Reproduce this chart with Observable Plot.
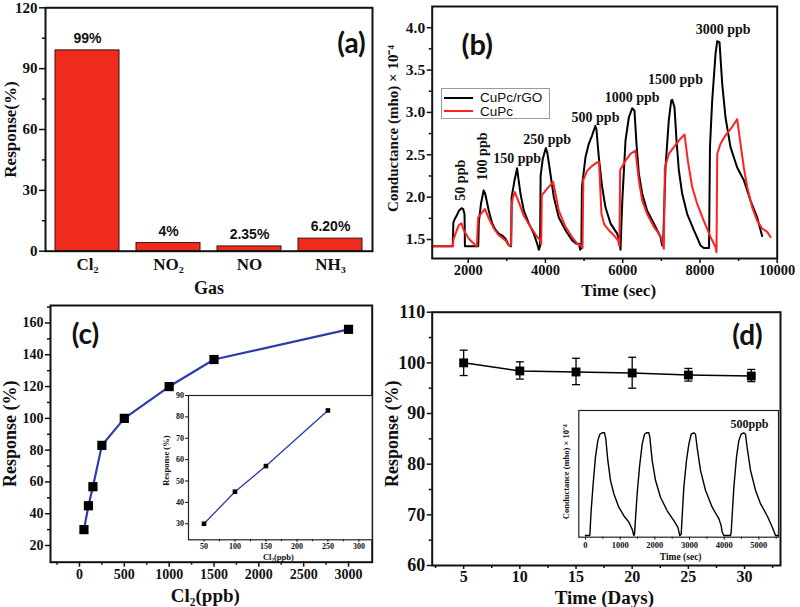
<!DOCTYPE html>
<html><head><meta charset="utf-8">
<script src="https://cdn.jsdelivr.net/npm/d3@7"></script>
<script src="https://cdn.jsdelivr.net/npm/@observablehq/plot@0.6"></script>
<style>
body{margin:0;background:#fff;}
#wrap{position:relative;width:800px;height:607px;overflow:hidden;background:#fff;}
#wrap svg{position:absolute;left:0;top:0;}
.legend{position:absolute;left:441px;top:88px;width:107px;height:29px;border:1px solid #9a9a9a;background:#fff;font:13.5px "Liberation Sans",Arial,sans-serif;color:#111;}
.legend .row{position:absolute;left:2px;height:13px;line-height:13px;}
.legend .sw{position:absolute;left:0;top:5.5px;width:29px;height:0;border-top:2px solid #000;}
.legend .lb{position:absolute;left:36px;top:0;white-space:nowrap;}
</style></head><body><div id="wrap"></div><script>
// ---------- (a) selectivity ----------
const gases = ["Cl₂","NO₂","NO","NH₃"];
const gasResponse = [99, 4, 2.35, 6.2];
const gasLabels = ["99%","4%","2.35%","6.20%"];
const aYTicks = [0,30,60,90,120];
// ---------- (b) transients ----------
const rgoCurve = [[1080,1.42],[1600,1.42],[1615,1.70],[1650,1.74],[1700,1.78],[1760,1.84],[1830,1.87],[1870,1.86],[1905,1.80],[1915,1.42],[2260,1.42],[2275,1.70],[2330,1.92],[2400,2.08],[2440,2.04],[2533,1.84],[2621,1.69],[2700,1.62],[2793,1.57],[2900,1.54],[2966,1.51],[3040,1.44],[3110,1.42],[3125,2.00],[3200,2.20],[3265,2.34],[3300,2.22],[3354,2.04],[3440,1.84],[3569,1.69],[3698,1.57],[3786,1.45],[3830,1.38],[3860,1.42],[3875,2.25],[3930,2.45],[4010,2.58],[4050,2.52],[4105,2.35],[4217,2.00],[4346,1.76],[4519,1.61],[4692,1.49],[4800,1.45],[4870,1.45],[4900,1.38],[4930,1.40],[4945,2.12],[5036,2.47],[5123,2.63],[5209,2.73],[5290,2.84],[5320,2.80],[5382,2.47],[5468,2.12],[5554,1.88],[5684,1.69],[5856,1.57],[5915,1.49],[5943,1.38],[5990,1.96],[6073,2.67],[6159,2.94],[6246,3.05],[6305,3.02],[6357,2.63],[6417,2.28],[6505,2.04],[6634,1.84],[6806,1.69],[6979,1.53],[7022,1.43],[7045,1.43],[7108,2.35],[7194,2.91],[7256,3.14],[7282,3.15],[7341,3.06],[7393,2.67],[7453,2.32],[7540,2.04],[7670,1.80],[7842,1.61],[7950,1.50],[8014,1.43],[8100,1.40],[8235,1.40],[8260,2.60],[8317,3.14],[8403,3.69],[8447,3.84],[8506,3.83],[8576,3.34],[8662,2.94],[8791,2.59],[8964,2.35],[9136,2.20],[9309,1.96],[9482,1.76],[9611,1.54]];
const cupcCurve = [[1080,1.42],[1600,1.42],[1620,1.50],[1671,1.57],[1757,1.67],[1826,1.69],[1886,1.61],[2016,1.51],[2150,1.45],[2225,1.42],[2245,1.65],[2259,1.76],[2362,1.82],[2431,1.86],[2534,1.75],[2664,1.63],[2793,1.55],[2966,1.49],[3052,1.43],[3110,1.43],[3130,1.92],[3160,2.00],[3207,2.06],[3310,1.94],[3440,1.78],[3613,1.65],[3786,1.53],[3872,1.49],[3890,1.44],[3905,2.02],[4045,2.10],[4200,2.18],[4346,1.84],[4519,1.65],[4692,1.53],[4822,1.45],[4908,1.43],[4960,1.40],[4980,2.20],[5079,2.31],[5209,2.37],[5338,2.41],[5382,2.42],[5400,2.30],[5450,1.80],[5520,1.68],[5641,1.61],[5770,1.55],[5880,1.49],[5915,1.42],[5935,2.32],[6073,2.43],[6202,2.51],[6331,2.55],[6417,2.20],[6505,1.96],[6634,1.80],[6806,1.65],[6935,1.57],[7022,1.49],[7065,1.39],[7091,2.35],[7194,2.51],[7324,2.59],[7497,2.69],[7600,2.74],[7686,2.43],[7799,2.12],[7929,1.92],[8100,1.72],[8273,1.53],[8403,1.41],[8429,1.35],[8447,2.51],[8532,2.63],[8662,2.73],[8835,2.83],[8964,2.92],[9050,2.63],[9136,2.35],[9223,2.12],[9353,1.88],[9482,1.72],[9611,1.63],[9741,1.59],[9827,1.53]];
const seriesNames = ["CuPc/rGO","CuPc"];
const seriesColors = ["#000000","#ff2222"];
const ppbLabels = ["50 ppb","100 ppb","150 ppb","250 ppb","500 ppb","1000 ppb","1500 ppb","3000 ppb"];
const ppbLabelT = [1801,2362,3269,4045,5296,6246,7367,8602];
const ppbLabelC = [2.20,2.48,2.46,2.68,2.94,3.18,3.39,3.98];
const ppbLabelRot = [-90,-90,0,0,0,0,0,0];
const bYTicks = [1.5,2.0,2.5,3.0,3.5,4.0];
const bXTicks = [2000,4000,6000,8000,10000];
// ---------- (c) concentration ----------
const cl2Conc = [50,100,150,250,500,1000,1500,3000];
const cl2Resp = [30,45,57,83,100,120,137,156];
const insetConc = [50,100,150,250];
const insetResp = [30,45,57,83];
const cXTicks = [0,500,1000,1500,2000,2500,3000];
const cYTicks = [20,40,60,80,100,120,140,160];
// ---------- (d) stability ----------
const days = [5,10,15,20,25,30.6];
const dayResp = [100,98.4,98.2,98.0,97.6,97.4];
const dayErrLo = [97.5,96.8,95.7,95.0,96.4,96.3];
const dayErrHi = [102.5,100.2,100.9,101.1,98.9,98.7];
const dYTicks = [60,70,80,90,100,110];
const dXTicks = [5,10,15,20,25,30];
const cycleCurve = [[0,1.40],[125,1.40],[163,1.75],[221,2.13],[288,2.51],[356,2.74],[413,2.83],[481,2.85],[548,2.85],[587,2.76],[644,2.46],[721,2.18],[817,1.99],[962,1.80],[1106,1.68],[1250,1.59],[1346,1.49],[1394,1.40],[1413,1.42],[1490,1.99],[1558,2.37],[1635,2.69],[1702,2.83],[1760,2.85],[1827,2.85],[1856,2.79],[1923,2.46],[2019,2.18],[2163,1.94],[2356,1.75],[2548,1.61],[2663,1.52],[2721,1.40],[2760,1.42],[2836,2.08],[2913,2.46],[2981,2.69],[3048,2.83],[3125,2.85],[3173,2.83],[3221,2.64],[3317,2.32],[3461,2.04],[3654,1.80],[3846,1.64],[3913,1.54],[3942,1.45],[3990,1.40],[4183,1.40],[4202,1.45],[4279,2.08],[4356,2.51],[4423,2.74],[4490,2.83],[4567,2.85],[4615,2.83],[4663,2.64],[4760,2.32],[4904,2.04],[5048,1.85],[5240,1.68],[5385,1.52],[5481,1.40],[5560,1.40]];
const dInsetXTicks = [0,1000,2000,3000,4000,5000];

// ---------- helpers ----------
const W = 800, H = 607;
const SERIF = '"Liberation Serif","Times New Roman",serif';
const SANS = '"Liberation Sans",Arial,sans-serif';
const TAG = 'Lato,"Open Sans",sans-serif';
function base(l, r, t, b) {
  return {width: W, height: H, marginLeft: l, marginRight: W - r, marginTop: t, marginBottom: H - b,
    style: {background: "transparent", fontFamily: SERIF, fontWeight: "bold", fontSize: "15px", color: "#111", overflow: "visible"}};
}
// a text placed relative to the frame, centred on its anchor point
function label(str, anchor, dx, dy, opts = {}) {
  return Plot.text([str], {frameAnchor: anchor, dx, dy, textAnchor: "middle", lineAnchor: "middle", ...opts});
}
const noLabel = () => "";
const wrap = document.getElementById("wrap");

// ---------- (a) ----------
const gasData = gases.map((g, i) => ({gas: g, value: gasResponse[i], label: gasLabels[i]}));
const pa = Plot.plot({
  ...base(45, 372, 7.3, 250.7),
  x: {domain: gases, paddingInner: 0.21, paddingOuter: 0.1, axis: null},
  y: {domain: [0, 120], axis: null},
  marks: [
    Plot.barY(gasData, {x: "gas", y: "value", fill: "#ef2b1d", stroke: "#3a1010", strokeWidth: 1}),
    Plot.text(gasData, {x: "gas", y: "value", text: "label", dy: -12, fontFamily: SANS, fontSize: 14, fontWeight: "bold"}),
    Plot.axisY({ticks: aYTicks, tickSize: 6, tickPadding: 2, fontSize: 15, strokeWidth: 1.5, label: null}),
    Plot.axisY({ticks: [15,45,75,105], tickSize: 3, tickFormat: noLabel, strokeWidth: 1.5, label: null}),
    Plot.axisX({tickSize: 0, tickPadding: 7, fontSize: 17, label: null}),
    Plot.frame({strokeWidth: 2}),
    label("Response(%)", "left", -35, 0, {rotate: -90, fontSize: 17}),
    label("Gas", "bottom", 0, 37, {fontSize: 18}),
    label("(a)", "top-right", -21, 36, {fontFamily: TAG, fontSize: 28, fontWeight: "bold"})
  ]
});
wrap.appendChild(pa);

// ---------- (b) ----------
const bData = [];
rgoCurve.forEach(([t, c]) => bData.push({t, c, s: seriesNames[0]}));
cupcCurve.forEach(([t, c]) => bData.push({t, c, s: seriesNames[1]}));
const annData = ppbLabels.map((l, i) => ({l, t: ppbLabelT[i], c: ppbLabelC[i], r: ppbLabelRot[i]}));
const pb = Plot.plot({
  ...base(431.7, 776.7, 6, 258),
  x: {domain: [1068, 10000], axis: null},
  y: {domain: [1.276, 4.25], axis: null},
  color: {domain: seriesNames, range: seriesColors},
  marks: [
    Plot.line(bData, {x: "t", y: "c", z: "s", stroke: "s", strokeWidth: 2, curve: "linear"}),
    Plot.text(annData.filter(d => d.r !== 0), {x: "t", y: "c", text: "l", rotate: -90, fontSize: 14}),
    Plot.text(annData.filter(d => d.r === 0), {x: "t", y: "c", text: "l", fontSize: 14}),
    Plot.axisY({ticks: bYTicks, tickSize: 5, tickPadding: 2, fontSize: 15.5, strokeWidth: 1.5, tickFormat: d3.format(".1f"), label: null}),
    Plot.axisY({ticks: [1.75,2.25,2.75,3.25,3.75], tickSize: 3, tickFormat: noLabel, strokeWidth: 1.5, label: null}),
    Plot.axisX({ticks: bXTicks, tickSize: 5, tickPadding: 1, fontSize: 14.5, strokeWidth: 1.5, tickFormat: d => String(d), label: null}),
    Plot.axisX({ticks: [3000,5000,7000,9000], tickSize: 3, tickFormat: noLabel, strokeWidth: 1.5, label: null}),
    Plot.frame({strokeWidth: 2}),
    label("Conductance (mho) × 10⁻⁴", "left", -39, -4, {rotate: -90, fontSize: 15}),
    label("Time (sec)", "bottom", 14, 32, {fontSize: 17}),
    label("(b)", "top-left", 45, 39, {fontFamily: TAG, fontSize: 29, fontWeight: "bold"})
  ]
});
wrap.appendChild(pb);
const lg = document.createElement("div");
lg.className = "legend";
seriesNames.forEach((n, i) => {
  const row = document.createElement("div");
  row.className = "row";
  row.style.top = (2 + i * 13.5) + "px";
  row.innerHTML = `<span class="sw" style="border-top-color:${seriesColors[i]}"></span><span class="lb">${n}</span>`;
  lg.appendChild(row);
});
wrap.appendChild(lg);

// ---------- (c) ----------
const cData = cl2Conc.map((x, i) => ({x, y: cl2Resp[i]}));
const pc = Plot.plot({
  ...base(50, 371.7, 305, 561.7),
  x: {domain: [-323, 3264], axis: null},
  y: {domain: [9.5, 171], axis: null},
  marks: [
    Plot.line(cData, {x: "x", y: "y", stroke: "#2a3cae", strokeWidth: 2.2}),
    Plot.dot(cData, {x: "x", y: "y", symbol: "square", r: 5.2, fill: "#000"}),
    Plot.axisY({ticks: cYTicks, tickSize: 5, tickPadding: 2, fontSize: 14, strokeWidth: 1.5, label: null}),
    Plot.axisY({ticks: [30,50,70,90,110,130,150,170], tickSize: 3, tickFormat: noLabel, strokeWidth: 1.5, label: null}),
    Plot.axisX({ticks: cXTicks, tickSize: 5, tickPadding: 2, fontSize: 14, strokeWidth: 1.5, tickFormat: d => String(d), label: null}),
    Plot.axisX({ticks: [-250,250,750,1250,1750,2250,2750], tickSize: 3, tickFormat: noLabel, strokeWidth: 1.5, label: null}),
    Plot.frame({strokeWidth: 2}),
    label("Response (%)", "left", -40, 0, {rotate: -90, fontSize: 18}),
    label("Cl₂(ppb)", "bottom", -6, 34, {fontSize: 19}),
    label("(c)", "top-left", 35, 30, {fontFamily: TAG, fontSize: 28, fontWeight: "bold"})
  ]
});
wrap.appendChild(pc);

const ciData = insetConc.map((x, i) => ({x, y: insetResp[i]}));
const pci = Plot.plot({
  ...base(188, 371.7, 395, 539.3),
  x: {domain: [25, 321.5], axis: null},
  y: {domain: [22.5, 90], axis: null},
  marks: [
    Plot.frame({fill: "#fff", stroke: "#222", strokeWidth: 1.2}),
    Plot.line(ciData, {x: "x", y: "y", stroke: "#2a3cae", strokeWidth: 1.3}),
    Plot.dot(ciData, {x: "x", y: "y", symbol: "square", r: 2.6, fill: "#000"}),
    Plot.axisY({ticks: [30,40,50,60,70,80,90], tickSize: 3, tickPadding: 1.5, fontSize: 8, strokeWidth: 1, label: null}),
    Plot.axisX({ticks: [50,100,150,200,250,300], tickSize: 2.5, tickPadding: 1, fontSize: 8, strokeWidth: 1, label: null}),
    Plot.axisX({ticks: [75,125,175,225,275], tickSize: 2, tickFormat: noLabel, strokeWidth: 1, label: null}),
    label("Response (%)", "left", -22, -7, {rotate: -90, fontSize: 8.5}),
    label("Cl₂(ppb)", "bottom", -2, 17, {fontSize: 8.5})
  ]
});
wrap.appendChild(pci);

// ---------- (d) ----------
const dData = days.map((x, i) => ({x, y: dayResp[i], lo: dayErrLo[i], hi: dayErrHi[i]}));
const capSymbol = {draw(ctx, size) { const w = Math.sqrt(size) / 2; ctx.moveTo(-w, 0); ctx.lineTo(w, 0); }};
const pd = Plot.plot({
  ...base(431.7, 780, 311.7, 565),
  x: {domain: [2.2, 33.2], axis: null},
  y: {domain: [60, 110], axis: null},
  marks: [
    Plot.ruleX(dData, {x: "x", y1: "lo", y2: "hi", stroke: "#000", strokeWidth: 1.3}),
    Plot.dot(dData, {x: "x", y: "lo", symbol: capSymbol, r: 4.5, stroke: "#000", fill: "none", strokeWidth: 1.3}),
    Plot.dot(dData, {x: "x", y: "hi", symbol: capSymbol, r: 4.5, stroke: "#000", fill: "none", strokeWidth: 1.3}),
    Plot.line(dData, {x: "x", y: "y", stroke: "#000", strokeWidth: 1.5}),
    Plot.dot(dData, {x: "x", y: "y", symbol: "square", r: 5, fill: "#000"}),
    Plot.axisY({ticks: dYTicks, tickSize: 5, tickPadding: 2, fontSize: 18, strokeWidth: 1.5, label: null}),
    Plot.axisY({ticks: [65,75,85,95,105], tickSize: 3, tickFormat: noLabel, strokeWidth: 1.5, label: null}),
    Plot.axisX({ticks: dXTicks, tickSize: 4, tickPadding: 1, fontSize: 16, strokeWidth: 1.5, label: null}),
    Plot.axisX({ticks: [2.5,7.5,12.5,17.5,22.5,27.5,32.5], tickSize: 3, tickFormat: noLabel, strokeWidth: 1.5, label: null}),
    Plot.frame({strokeWidth: 2}),
    label("Response (%)", "left", -40, -5, {rotate: -90, fontSize: 18}),
    label("Time (Days)", "bottom", -2, 32, {fontSize: 19}),
    label("(d)", "top-right", -33, 24, {fontFamily: TAG, fontSize: 28, fontWeight: "bold"})
  ]
});
wrap.appendChild(pd);

const diData = cycleCurve.map(([t, c]) => ({t, c}));
const pdi = Plot.plot({
  ...base(578.3, 778, 410, 536.7),
  x: {domain: [-193, 5567], axis: null},
  y: {domain: [1.377, 3.165], axis: null},
  marks: [
    Plot.frame({fill: "#fff", stroke: "#222", strokeWidth: 1.2}),
    Plot.line(diData, {x: "t", y: "c", stroke: "#000", strokeWidth: 1.4}),
    Plot.axisX({ticks: dInsetXTicks, tickSize: 3, tickPadding: 1.5, fontSize: 8.5, strokeWidth: 1, tickFormat: d => String(d), label: null}),
    Plot.axisX({ticks: [500,1500,2500,3500,4500,5500], tickSize: 2, tickFormat: noLabel, strokeWidth: 1, label: null}),
    Plot.text(["500ppb"], {x: [4730], y: [2.97], fontSize: 12}),
    label("Conductance (mho) × 10⁻⁴", "left", -13, -2, {rotate: -90, fontSize: 8.5}),
    label("Time (sec)", "bottom", 2, 20, {fontSize: 9.5})
  ]
});
wrap.appendChild(pdi);
</script></body></html>
